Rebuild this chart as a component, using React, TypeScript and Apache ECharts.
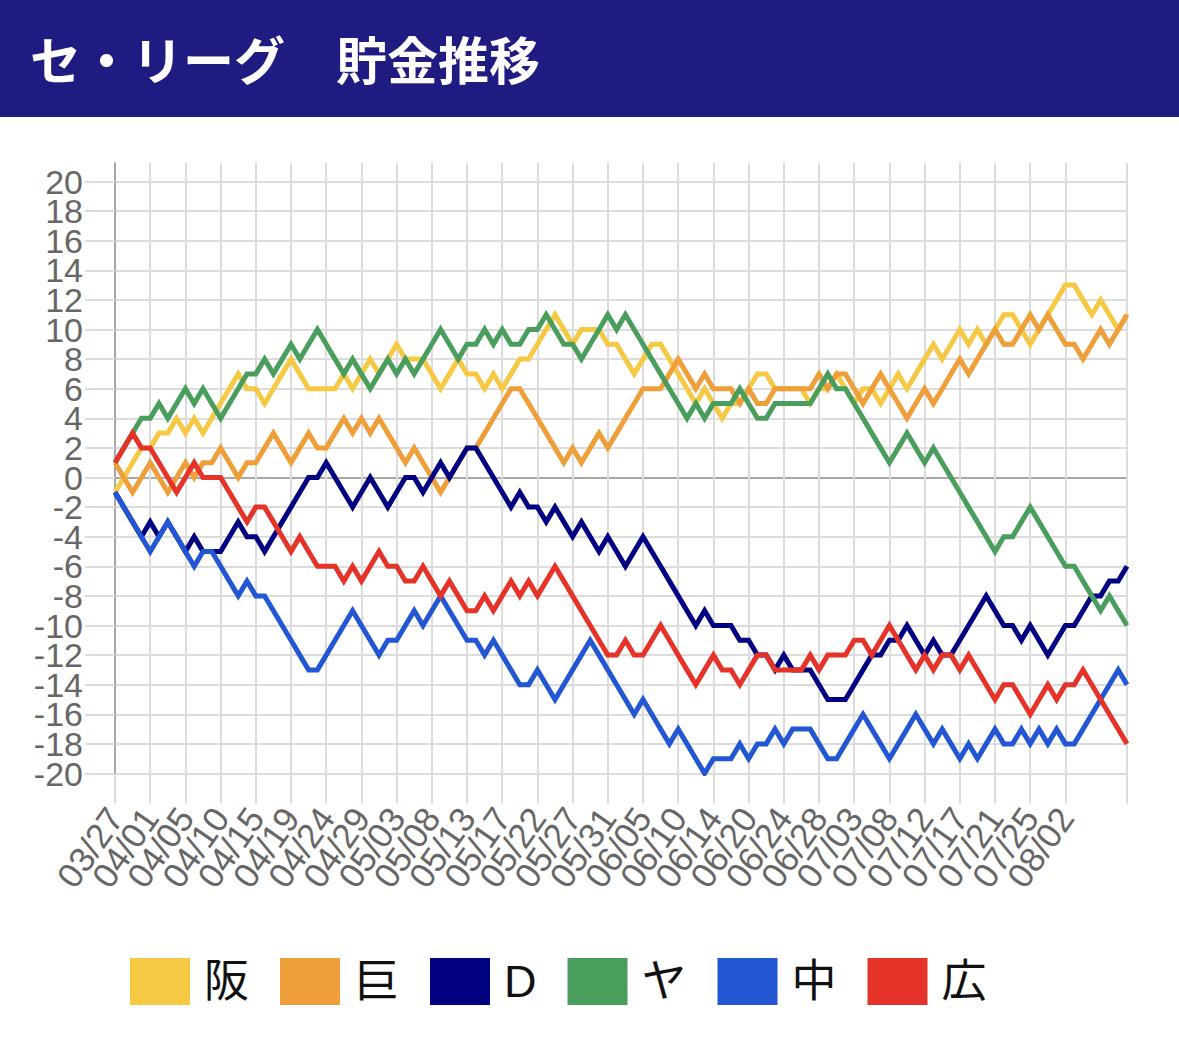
import { useEffect, useRef } from 'react';
import * as echarts from 'echarts';

// x軸ラベル(4日ごと)
const tickLabels = [
  '03/27', '04/01', '04/05', '04/10', '04/15', '04/19', '04/24', '04/29',
  '05/03', '05/08', '05/13', '05/17', '05/22', '05/27', '05/31', '06/05',
  '06/10', '06/14', '06/20', '06/24', '06/28', '07/03', '07/08', '07/12',
  '07/17', '07/21', '07/25', '08/02',
];
// y軸ラベル
const yTickLabels = [
  '-20', '-18', '-16', '-14', '-12', '-10', '-8', '-6', '-4', '-2', '0',
  '2', '4', '6', '8', '10', '12', '14', '16', '18', '20',
];

const teams = ['阪', '巨', 'D', 'ヤ', '中', '広'];
const teamColors = ['#f5c944', '#ee9f3a', '#000080', '#4a9e5d', '#2356d3', '#e6332a'];

// 貯金の推移(試合日ごと)
const hanshin = [
  -1, 0, 1, 2, 2, 3, 3, 4, 3, 4,
  3, 4, 5, 6, 7, 6, 6, 5, 6, 7,
  8, 7, 6, 6, 6, 6, 7, 6, 7, 8,
  7, 8, 9, 8, 8, 8, 7, 6, 7, 8,
  7, 7, 6, 7, 6, 7, 8, 8, 9, 10,
  11, 10, 9, 10, 10, 10, 9, 9, 8, 7,
  8, 9, 9, 8, 7, 6, 5, 6, 5, 4,
  5, 5, 6, 7, 7, 6, 6, 6, 6, 5,
  6, 6, 7, 6, 5, 6, 6, 5, 6, 7,
  6, 7, 8, 9, 8, 9, 10, 9, 10, 9,
  10, 11, 11, 10, 9, 10, 11, 12, 13, 13,
  12, 11, 12, 11, 10, 11,
];
const kyojin = [
  1, 0, -1, 0, 1, 0, -1, 0, 1, 0,
  1, 1, 2, 1, 0, 1, 1, 2, 3, 2,
  1, 2, 3, 2, 2, 3, 4, 3, 4, 3,
  4, 3, 2, 1, 2, 1, 0, -1, 0, 1,
  2, 2, 3, 4, 5, 6, 6, 5, 4, 3,
  2, 1, 2, 1, 2, 3, 2, 3, 4, 5,
  6, 6, 6, 7, 8, 7, 6, 7, 6, 6,
  6, 5, 6, 5, 5, 6, 6, 6, 6, 6,
  7, 6, 7, 7, 6, 5, 6, 7, 6, 5,
  4, 5, 6, 5, 6, 7, 8, 7, 8, 9,
  10, 9, 9, 10, 11, 10, 11, 10, 9, 9,
  8, 9, 10, 9, 10, 11,
];
const dena = [
  -1, -2, -3, -4, -3, -4, -3, -4, -5, -4,
  -5, -5, -5, -4, -3, -4, -4, -5, -4, -3,
  -2, -1, 0, 0, 1, 0, -1, -2, -1, 0,
  -1, -2, -1, 0, 0, -1, 0, 1, 0, 1,
  2, 2, 1, 0, -1, -2, -1, -2, -2, -3,
  -2, -3, -4, -3, -4, -5, -4, -5, -6, -5,
  -4, -5, -6, -7, -8, -9, -10, -9, -10, -10,
  -10, -11, -11, -12, -12, -13, -12, -13, -13, -13,
  -14, -15, -15, -15, -14, -13, -12, -12, -11, -11,
  -10, -11, -12, -11, -12, -12, -11, -10, -9, -8,
  -9, -10, -10, -11, -10, -11, -12, -11, -10, -10,
  -9, -8, -8, -7, -7, -6,
];
const yakult = [
  1, 2, 3, 4, 4, 5, 4, 5, 6, 5,
  6, 5, 4, 5, 6, 7, 7, 8, 7, 8,
  9, 8, 9, 10, 9, 8, 7, 8, 7, 6,
  7, 8, 7, 8, 7, 8, 9, 10, 9, 8,
  9, 9, 10, 9, 10, 9, 9, 10, 10, 11,
  10, 9, 9, 8, 9, 10, 11, 10, 11, 10,
  9, 8, 7, 6, 5, 4, 5, 4, 5, 5,
  5, 6, 5, 4, 4, 5, 5, 5, 5, 5,
  6, 7, 6, 6, 5, 4, 3, 2, 1, 2,
  3, 2, 1, 2, 1, 0, -1, -2, -3, -4,
  -5, -4, -4, -3, -2, -3, -4, -5, -6, -6,
  -7, -8, -9, -8, -9, -10,
];
const chunichi = [
  -1, -2, -3, -4, -5, -4, -3, -4, -5, -6,
  -5, -5, -6, -7, -8, -7, -8, -8, -9, -10,
  -11, -12, -13, -13, -12, -11, -10, -9, -10, -11,
  -12, -11, -11, -10, -9, -10, -9, -8, -9, -10,
  -11, -11, -12, -11, -12, -13, -14, -14, -13, -14,
  -15, -14, -13, -12, -11, -12, -13, -14, -15, -16,
  -15, -16, -17, -18, -17, -18, -19, -20, -19, -19,
  -19, -18, -19, -18, -18, -17, -18, -17, -17, -17,
  -18, -19, -19, -18, -17, -16, -17, -18, -19, -18,
  -17, -16, -17, -18, -17, -18, -19, -18, -19, -18,
  -17, -18, -18, -17, -18, -17, -18, -17, -18, -18,
  -17, -16, -15, -14, -13, -14,
];
const hiroshima = [
  1, 2, 3, 2, 2, 1, 0, -1, 0, 1,
  0, 0, 0, -1, -2, -3, -2, -2, -3, -4,
  -5, -4, -5, -6, -6, -6, -7, -6, -7, -6,
  -5, -6, -6, -7, -7, -6, -7, -8, -7, -8,
  -9, -9, -8, -9, -8, -7, -8, -7, -8, -7,
  -6, -7, -8, -9, -10, -11, -12, -12, -11, -12,
  -12, -11, -10, -11, -12, -13, -14, -13, -12, -13,
  -13, -14, -13, -12, -12, -13, -13, -13, -13, -12,
  -13, -12, -12, -12, -11, -11, -12, -11, -10, -11,
  -12, -13, -12, -13, -12, -12, -13, -12, -13, -14,
  -15, -14, -14, -15, -16, -15, -14, -15, -14, -14,
  -13, -14, -15, -16, -17, -18,
];

const FONT = '"Liberation Sans", Arial, "Noto Sans CJK JP", sans-serif';
const GRID_COLOR = '#dcdcdc';
const AXIS_COLOR = '#a8a8a8';

export default function App() {
  const chartRef = useRef<HTMLDivElement>(null);

  useEffect(() => {
    if (!chartRef.current) return;
    const chart = echarts.init(chartRef.current, undefined, { renderer: 'svg' });

    const values = [hanshin, kyojin, dena, yakult, chunichi, hiroshima];
    const days = hanshin.map((_, i) => String(i));
    const lastDay = days.length - 1;
    const labelled = (i: number) => i % 4 === 0 && i / 4 < tickLabels.length;
    const gridLine = (i: number) => labelled(i) || i === lastDay;
    // -20..20 の横線、0 だけ濃く
    const yLineColors = yTickLabels.map((t) => (t === '0' ? AXIS_COLOR : GRID_COLOR));

    chart.setOption({
      animation: false,
      backgroundColor: '#fff',
      graphic: [
        {
          type: 'rect',
          shape: { x: 0, y: 0, width: 1179, height: 117 },
          style: { fill: '#201b80' },
          silent: true,
        },
        {
          type: 'text',
          x: 30,
          y: 58,
          style: {
            text: 'セ・リーグ　貯金推移',
            fill: '#fff',
            fontSize: 51,
            fontWeight: 'bold',
            fontFamily: '"Noto Sans CJK JP", sans-serif',
            verticalAlign: 'middle',
          },
        },
      ],
      legend: {
        data: teams,
        left: 125,
        top: 953,
        icon: 'rect',
        itemWidth: 60,
        itemHeight: 47,
        itemGap: 31,
        selectedMode: false,
        textStyle: { fontSize: 45, color: '#111', fontFamily: FONT, padding: [0, 0, 0, 9] },
      },
      grid: [
        { left: 115, top: 163, width: 1012, height: 610.5 },
        { left: 115, top: 181.5, width: 1012, height: 592 },
      ],
      xAxis: [
        {
          gridIndex: 0,
          type: 'category',
          data: days,
          boundaryGap: false,
          axisLine: { show: false, onZero: false },
          axisTick: { show: false },
          axisLabel: { show: false },
          splitLine: { show: true, interval: (i: number) => gridLine(i), lineStyle: { color: GRID_COLOR, width: 2 } },
        },
        {
          gridIndex: 1,
          type: 'category',
          data: days,
          boundaryGap: false,
          axisLine: { show: false, onZero: false },
          axisTick: {
            show: true,
            length: 30,
            interval: (i: number) => gridLine(i),
            lineStyle: { color: GRID_COLOR, width: 2 },
          },
          axisLabel: {
            interval: 0,
            formatter: (_v: string, i: number) => (labelled(i) ? tickLabels[i / 4] : ''),
            rotate: 55,
            margin: 38,
            fontSize: 35,
            color: '#666',
            fontFamily: FONT,
          },
          splitLine: { show: false },
        },
      ],
      yAxis: [
        {
          gridIndex: 0,
          type: 'value',
          min: 0,
          max: 1,
          axisLine: { show: true, lineStyle: { color: AXIS_COLOR, width: 2 } },
          axisTick: { show: false },
          axisLabel: { show: false },
          splitLine: { show: false },
        },
        {
          gridIndex: 1,
          type: 'value',
          position: 'left',
          min: -20,
          max: 20,
          interval: 2,
          axisLine: { show: false },
          axisTick: { show: true, length: 30, lineStyle: { color: GRID_COLOR, width: 2 } },
          axisLabel: { show: false },
          splitLine: { show: true, lineStyle: { color: yLineColors, width: 2 } },
        },
        {
          // 目盛ラベル専用(全ラベルを表示)
          gridIndex: 1,
          type: 'category',
          position: 'left',
          data: yTickLabels,
          boundaryGap: false,
          axisLine: { show: false },
          axisTick: { show: false },
          splitLine: { show: false },
          axisLabel: { interval: 0, margin: 32, fontSize: 34, color: '#666', fontFamily: FONT },
        },
      ],
      series: values.map((data, k) => ({
        name: teams[k],
        type: 'line',
        xAxisIndex: 1,
        yAxisIndex: 1,
        data,
        symbol: 'none',
        lineStyle: { width: 5, color: teamColors[k], join: 'miter' },
        itemStyle: { color: teamColors[k] },
      })),
    });

    return () => chart.dispose();
  }, []);

  return (
    <div
      ref={chartRef}
      style={{ position: 'absolute', left: 0, top: 0, width: 1179, height: 1052 }}
    />
  );
}
